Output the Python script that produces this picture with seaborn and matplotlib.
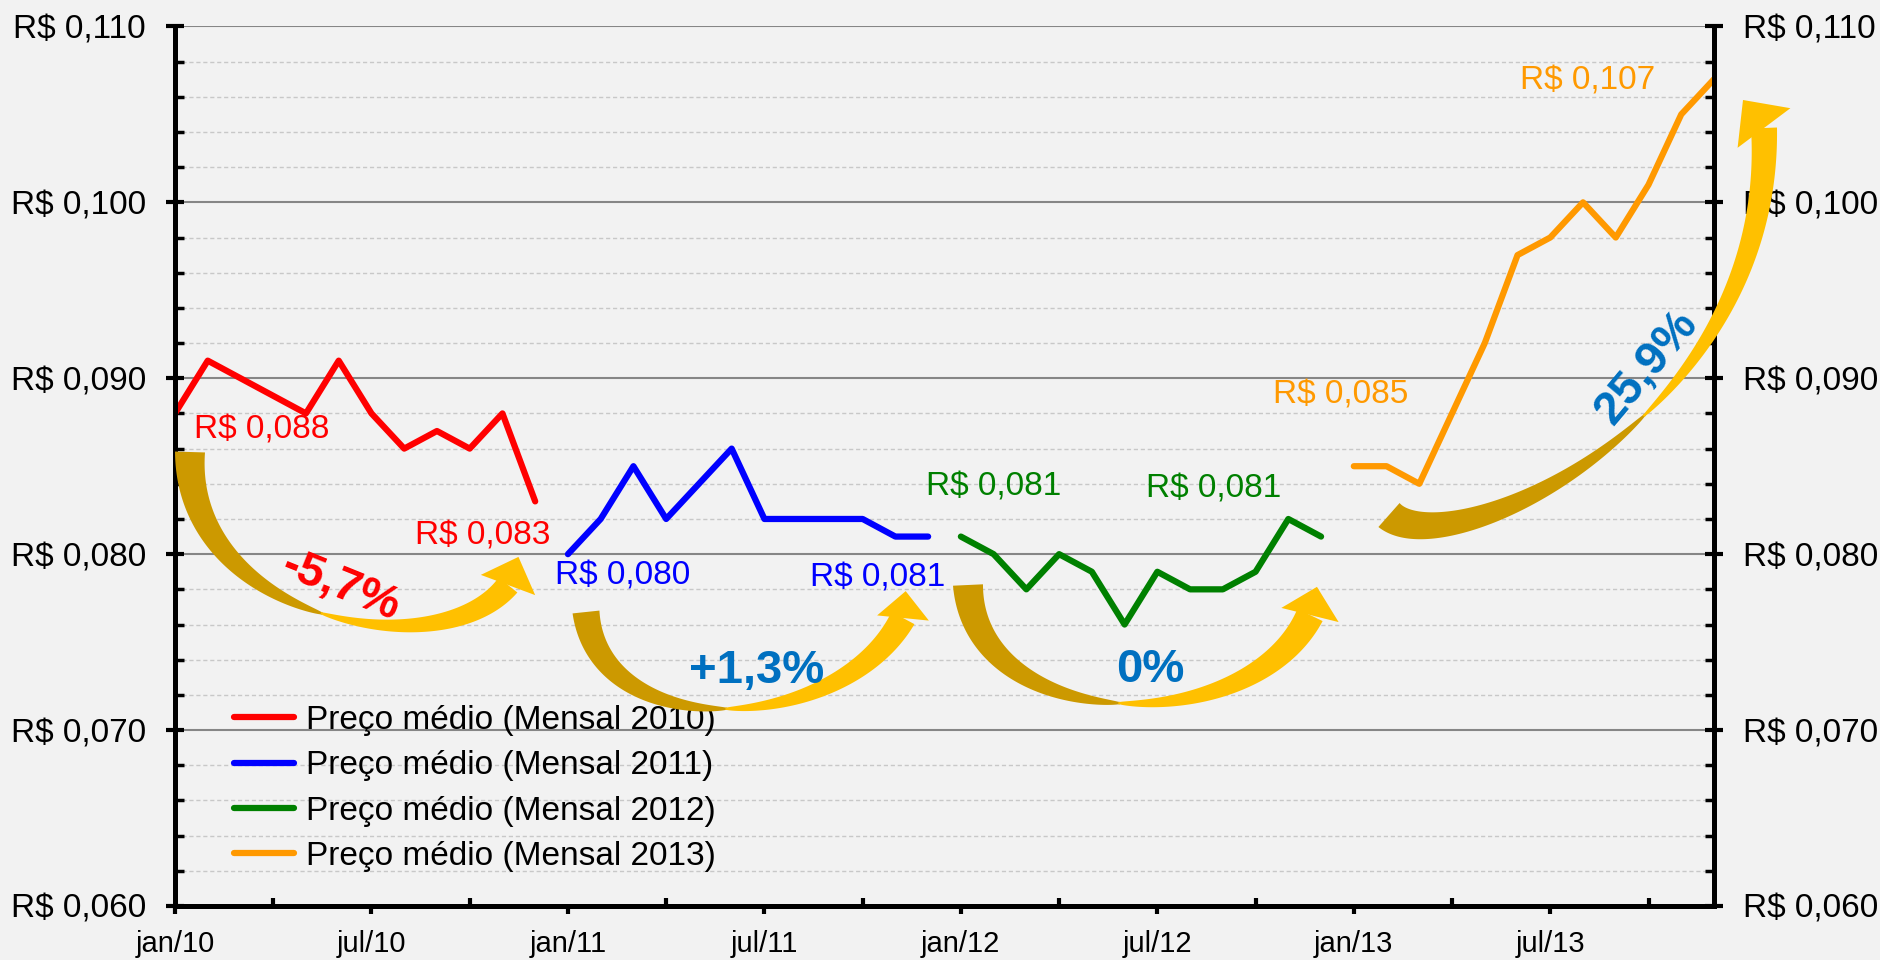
import numpy as np
import pandas as pd
import matplotlib
matplotlib.use("Agg")
import matplotlib.pyplot as plt
import seaborn as sns
from matplotlib.patches import Polygon
from matplotlib.ticker import FixedLocator, MultipleLocator, FuncFormatter

# ---------------- data ----------------
years = ["2010", "2011", "2012", "2013"]
preco_2010 = [0.088, 0.091, 0.090, 0.089, 0.088, 0.091, 0.088, 0.086, 0.087, 0.086, 0.088, 0.083]
preco_2011 = [0.080, 0.082, 0.085, 0.082, 0.084, 0.086, 0.082, 0.082, 0.082, 0.082, 0.081, 0.081]
preco_2012 = [0.081, 0.080, 0.078, 0.080, 0.079, 0.076, 0.079, 0.078, 0.078, 0.079, 0.082, 0.081]
preco_2013 = [0.085, 0.085, 0.084, 0.088, 0.092, 0.097, 0.098, 0.100, 0.098, 0.101, 0.105, 0.107]
series_values = [preco_2010, preco_2011, preco_2012, preco_2013]
series_labels = [f"Preço médio (Mensal {y})" for y in years]
colors = ["#FF0000", "#0000FF", "#008000", "#FF9900"]
xtick_labels = ["jan/10", "jul/10", "jan/11", "jul/11", "jan/12", "jul/12", "jan/13", "jul/13"]
yticks = [0.060, 0.070, 0.080, 0.090, 0.100, 0.110]
variation_labels = ["-5,7%", "+1,3%", "0%", "25,9%"]
variation_colors = ["#FF0000", "#0070C0", "#0070C0", "#0070C0"]

# ---------------- figure ----------------
W, H = 1881, 960
BG = "#F2F2F2"
sns.set_style("white")
plt.rcParams["font.family"] = ["Liberation Sans", "DejaVu Sans"]
plt.rcParams["text.color"] = "black"
plt.rcParams["xtick.color"] = "black"
plt.rcParams["ytick.color"] = "black"
plt.rcParams["axes.labelcolor"] = "black"

rows = []
for yi, (lab, vals) in enumerate(zip(series_labels, series_values)):
    for m, v in enumerate(vals):
        rows.append({"mes": yi * 12 + m, "preco": v, "serie": lab})
df = pd.DataFrame(rows)

fig = plt.figure(figsize=(W / 100, H / 100), dpi=100, facecolor=BG)
ax = fig.add_axes([175 / W, 1 - 906 / H, (1714 - 175) / W, (906 - 26.4) / H])
ax.set_facecolor(BG)

sns.lineplot(data=df, x="mes", y="preco", hue="serie",
             palette=dict(zip(series_labels, colors)), linewidth=4.5,
             ax=ax, sort=False, legend=True)

ax.set_xlim(0, 47)
ax.set_ylim(yticks[0], yticks[-1])
ax.set_xlabel("")
ax.set_ylabel("")

# y axis
ax.yaxis.set_major_locator(FixedLocator(yticks))
ax.yaxis.set_minor_locator(MultipleLocator(0.002))
ax.yaxis.set_major_formatter(FuncFormatter(lambda v, p: "R$ " + f"{v:.3f}".replace(".", ",")))
ax.tick_params(axis="y", which="major", direction="inout", length=13, width=3,
               left=True, right=True, labelleft=True, labelright=True,
               labelsize=24, pad=14.4, colors="black")
ax.tick_params(axis="y", which="minor", direction="in", length=6.5, width=2.5,
               left=True, right=True)
ax.yaxis.grid(True, which="major", color="#868686", lw=1.5)
ax.yaxis.grid(True, which="minor", color="#C8C8C8", lw=1, ls=(0, (3, 2)))
ax.xaxis.grid(False)
ax.set_axisbelow(True)

# x axis
ax.xaxis.set_major_locator(FixedLocator(np.arange(0, 48, 6)))
ax.xaxis.set_minor_locator(FixedLocator(np.arange(3, 48, 6)))
ax.set_xticklabels(xtick_labels)
ax.tick_params(axis="x", which="major", direction="out", length=6, width=3,
               labelsize=21, pad=11, bottom=True, colors="black")
ax.tick_params(axis="x", which="minor", direction="in", length=6, width=3, bottom=True)

for s in ["left", "right", "bottom"]:
    ax.spines[s].set_visible(True)
    ax.spines[s].set_linewidth(3.6)
    ax.spines[s].set_color("black")
ax.spines["top"].set_visible(False)

# legend
handles, labels = ax.get_legend_handles_labels()
leg = ax.legend(handles, labels, loc="upper left",
                bbox_to_anchor=(234 / W, 1 - 705 / H), bbox_transform=fig.transFigure,
                frameon=False, fontsize=24, labelspacing=0.43, handlelength=1.8,
                handletextpad=0.36, borderpad=0, borderaxespad=0, labelcolor="black")
for lh in leg.get_lines():
    lh.set_linewidth(4.5)

# data labels (first / last month of each year)
label_offsets = [
    [(87, -17), (-53, -35)],
    [(55, -22), (-51, -41)],
    [(33, 50), (-107, 48)],
    [(-13, 71), (-126, -2)],
]
for yi, vals in enumerate(series_values):
    for k, m in enumerate([0, 11]):
        v = vals[m]
        ax.annotate("R$ " + f"{v:.3f}".replace(".", ","), xy=(yi * 12 + m, v),
                    xytext=label_offsets[yi][k], textcoords="offset pixels",
                    ha="center", va="center", color=colors[yi], fontsize=24)

# ---------------- curved arrows (decoration, figure pixels) ----------------
DARK, YELLOW = "#CC9900", "#FFC000"


def to_fig(pts):
    pts = np.asarray(pts, float)
    return np.column_stack([pts[:, 0] / W, 1 - pts[:, 1] / H])


def curved_arrow(P, w0, wmin, w1, hw, hl, tm=0.5, head_dir=None, pw=0.7):
    P = np.asarray(P, float)
    t = np.linspace(0, 1, 300)
    a, b, c, d = (1 - t) ** 3, 3 * (1 - t) ** 2 * t, 3 * (1 - t) * t ** 2, t ** 3
    B = a[:, None] * P[0] + b[:, None] * P[1] + c[:, None] * P[2] + d[:, None] * P[3]
    D = ((3 * (1 - t) ** 2)[:, None] * (P[1] - P[0]) + (6 * (1 - t) * t)[:, None] * (P[2] - P[1])
         + (3 * t ** 2)[:, None] * (P[3] - P[2]))
    T = D / np.linalg.norm(D, axis=1)[:, None]
    N = np.column_stack([-T[:, 1], T[:, 0]])
    w = np.where(t < tm,
                 wmin + (w0 - wmin) * np.clip(1 - t / tm, 0, 1) ** pw,
                 wmin + (w1 - wmin) * np.clip((t - tm) / (1 - tm), 0, 1) ** pw)
    L = B + N * w[:, None] / 2
    R = B - N * w[:, None] / 2
    for mask, col in [(t <= tm + 0.004, DARK), (t >= tm - 0.004, YELLOW)]:
        poly = np.vstack([L[mask], R[mask][::-1]])
        fig.add_artist(Polygon(to_fig(poly), closed=True, facecolor=col, edgecolor="none",
                               transform=fig.transFigure, zorder=5))
    hd = T[-1] if head_dir is None else np.asarray(head_dir, float) / np.linalg.norm(head_dir)
    hn = np.array([-hd[1], hd[0]])
    base = B[-1]
    head = [base + hn * hw / 2, base + hd * hl, base - hn * hw / 2]
    fig.add_artist(Polygon(to_fig(head), closed=True, facecolor=YELLOW, edgecolor="none",
                           transform=fig.transFigure, zorder=5))


curved_arrow([(190, 452), (185, 620), (440, 670), (508, 585)], 30, 2, 24, 58, 30, tm=0.5,
             head_dir=(0.35, -0.94))
curved_arrow([(586, 612), (600, 745), (840, 735), (903, 618)], 27, 2, 26, 52, 27, tm=0.5,
             head_dir=(0.1, -1))
curved_arrow([(968, 585), (975, 735), (1250, 740), (1310, 615)], 30, 2, 28, 59, 29, tm=0.5,
             head_dir=(0.24, -0.97))
curved_arrow([(1389, 515), (1449, 568), (1775, 420), (1764, 128)], 32, 2, 26, 66, 35, tm=0.58,
             head_dir=(-0.6, -0.8))

# variation labels
var_pos = [(340, 586), (757, 671), (1150, 670), (1647, 368)]
var_rot = [-22, 0, 0, 50]
for txt, col, (xp, yp), rot in zip(variation_labels, variation_colors, var_pos, var_rot):
    fig.text(xp / W, 1 - yp / H, txt, color=col, fontsize=34, fontweight="bold",
             ha="center", va="center", rotation=rot, rotation_mode="anchor", zorder=6)

fig.savefig("out.png", dpi=100, facecolor=BG)
